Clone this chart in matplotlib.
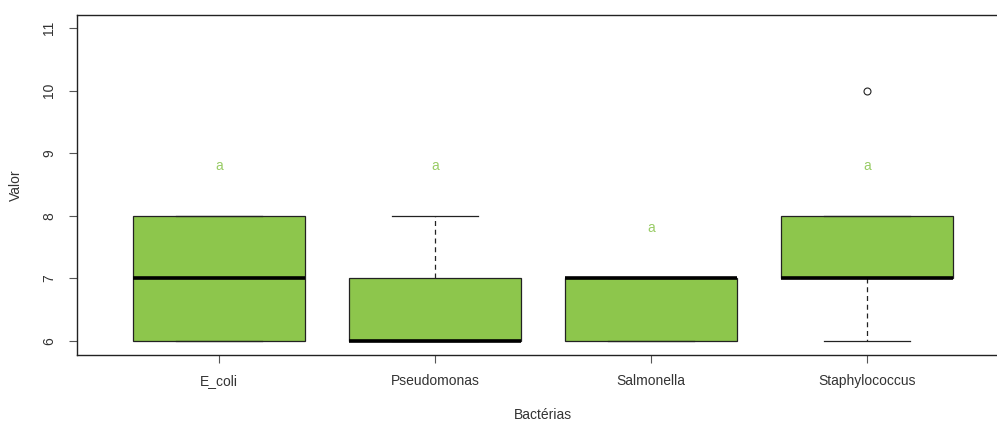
import matplotlib
matplotlib.use("Agg")
import matplotlib.pyplot as plt

plt.rcParams['font.family'] = ['Liberation Sans', 'DejaVu Sans']

bacterias = ["E_coli", "Pseudomonas", "Salmonella", "Staphylococcus"]
q1 = [6, 6, 6, 7]
med = [7, 6, 7, 7]
q3 = [8, 7, 7, 8]
whislo = [6, 6, 6, 6]
whishi = [8, 8, 7, 8]
outliers = [[], [], [], [10]]
letras = ["a", "a", "a", "a"]
letra_y = [8.8, 8.8, 7.8, 8.8]

verde = "#8dc64c"

stats = []
for i, nome in enumerate(bacterias):
    stats.append(dict(label=nome, q1=q1[i], med=med[i], q3=q3[i],
                      whislo=whislo[i], whishi=whishi[i], fliers=outliers[i]))

fig = plt.figure(figsize=(9.97, 4.21), dpi=100)
ax = fig.add_axes([77/997, 1-355/421, (1009-77)/997, (355-15)/421])

pos = list(range(1, len(bacterias)+1))
ax.bxp(stats, positions=pos, widths=0.8, patch_artist=True, showfliers=True,
       boxprops=dict(facecolor=verde, edgecolor="#222222", linewidth=0.9),
       medianprops=dict(color="black", linewidth=2.6, solid_capstyle="butt"),
       whiskerprops=dict(color="#222222", linestyle=(0, (4, 3)), linewidth=0.9),
       capprops=dict(color="#222222", linewidth=0.9),
       capwidths=0.4,
       flierprops=dict(marker="o", markerfacecolor="none", markeredgecolor="#222222",
                       markersize=5, markeredgewidth=0.8))

for p, l, y in zip(pos, letras, letra_y):
    ax.text(p, y, l, color="#99cc66", ha="center", va="center", fontsize=10)

ax.set_xlim(1-142/216, len(bacterias)+142/216)
ax.set_ylim(6-14/62.6, 11+13/62.6)
ax.set_yticks([6, 7, 8, 9, 10, 11])
ax.set_yticklabels(["6", "7", "8", "9", "10", "11"], rotation=90, va="center")
ax.set_xticks(pos)
ax.set_xticklabels(bacterias)
ax.tick_params(axis="both", labelsize=10, labelcolor="#333333", color="#555555",
               length=6, width=0.8, pad=8)
ax.tick_params(axis="y", pad=9)
for s in ax.spines.values():
    s.set_linewidth(1.0)
    s.set_color("#222222")

ax.set_xlabel("Bactérias", fontsize=10, labelpad=14, color="#333333")
ax.set_ylabel("Valor", fontsize=10, labelpad=14, color="#333333")

fig.savefig("out.png", dpi=100)
